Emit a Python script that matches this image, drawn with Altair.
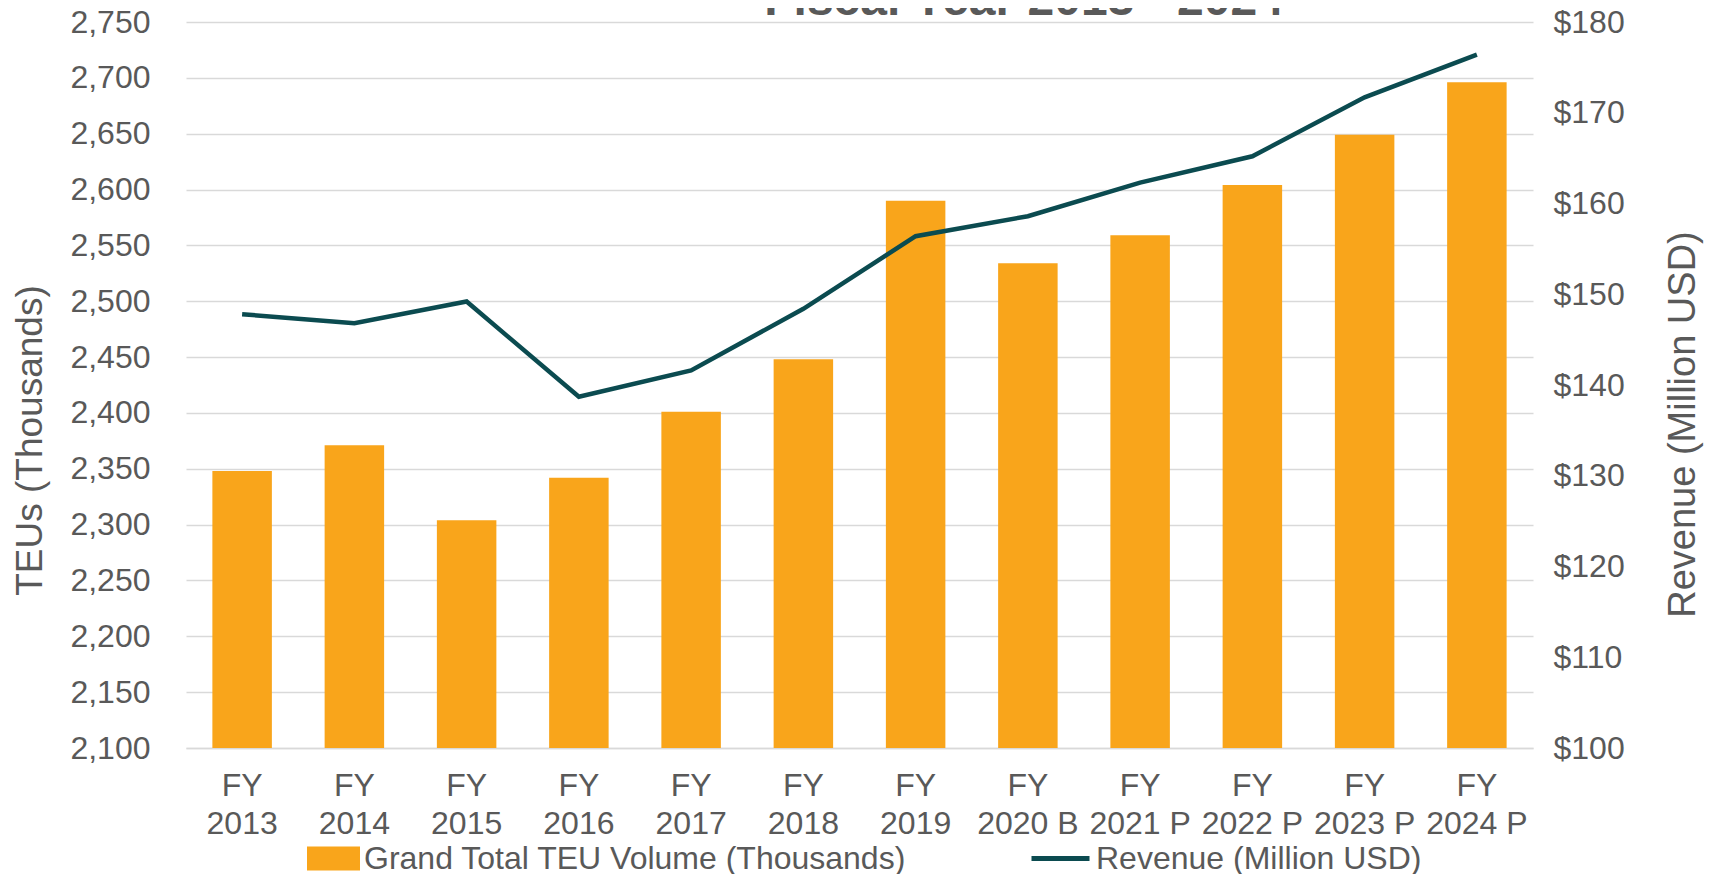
import altair as alt
import pandas as pd

years = ["FY|2013", "FY|2014", "FY|2015", "FY|2016", "FY|2017", "FY|2018",
         "FY|2019", "FY|2020 B", "FY|2021 P", "FY|2022 P", "FY|2023 P", "FY|2024 P"]
teu = [2348, 2371, 2304, 2342, 2401, 2448, 2590, 2534, 2559, 2604, 2649, 2696]
revenue = [147.8, 146.8, 149.2, 138.7, 141.6, 148.4, 156.4, 158.6, 162.3, 165.2, 171.7, 176.4]
left_ticks = [2100, 2150, 2200, 2250, 2300, 2350, 2400, 2450, 2500, 2550, 2600, 2650, 2700, 2750]
right_ticks = [100, 110, 120, 130, 140, 150, 160, 170, 180]
bar_name = "Grand Total TEU Volume (Thousands)"
line_name = "Revenue (Million USD)"
title_text = ["Fiscal Year 2013 - 2024"]

df = pd.DataFrame({"year": years, "teu": teu, "revenue": revenue,
                   "bar_series": [bar_name] * len(years),
                   "line_series": [line_name] * len(years)})
title_df = pd.DataFrame({"t": title_text})

FONT = "Liberation Sans"
GRAY = "#595959"
ORANGE = "#F9A51B"
TEAL = "#0B4B50"

x = alt.X("year:N", sort=years, title=None,
          scale=alt.Scale(paddingInner=0.47, paddingOuter=0.235),
          axis=alt.Axis(labelExpr="split(datum.label, '|')", labelAngle=0,
                        labelFontSize=32, labelLineHeight=38, labelPadding=22,
                        labelColor=GRAY, labelFont=FONT, ticks=False,
                        domainColor="#D9D9D9", domainWidth=1.5))

bars = alt.Chart(df).mark_bar(color=ORANGE).encode(
    x=x,
    y=alt.Y("teu:Q", title="TEUs (Thousands)",
            scale=alt.Scale(domain=[2100, 2750], nice=False, zero=False),
            axis=alt.Axis(values=left_ticks, format=",d", ticks=False, domain=False,
                          labelFontSize=32, labelColor=GRAY, labelFont=FONT, labelPadding=36,
                          titleFontSize=37, titleFontWeight="normal", titleColor=GRAY,
                          titleFont=FONT, titlePadding=20, titleY=418,
                          grid=True, gridColor="#D9D9D9", gridWidth=1.3)),
    y2=alt.datum(2100),
    color=alt.Color("bar_series:N", scale=alt.Scale(range=[ORANGE]),
                    legend=alt.Legend(title=None, orient="none", legendX=121, legendY=810,
                                      symbolType="M-1,-0.45L1,-0.45L1,0.45L-1,0.45Z",
                                      symbolSize=2809, symbolStrokeWidth=0,
                                      symbolOpacity=1, labelOffset=4, labelLimit=2000,
                                      labelFontSize=32, labelColor=GRAY, labelFont=FONT,
                                      padding=0)),
)

line = alt.Chart(df).mark_line(strokeWidth=4.5).encode(
    x=x,
    y=alt.Y("revenue:Q", title="Revenue (Million USD)",
            scale=alt.Scale(domain=[100, 180], nice=False, zero=False),
            axis=alt.Axis(orient="right", values=right_ticks,
                          labelExpr="'$' + datum.value", ticks=False, domain=False,
                          grid=False, labelFontSize=32, labelColor=GRAY, labelFont=FONT,
                          labelPadding=20, titleFontSize=38, titleFontWeight="normal",
                          titleColor=GRAY, titleFont=FONT, titlePadding=78,
                          titleAngle=270, titleY=402)),
    stroke=alt.Stroke("line_series:N", scale=alt.Scale(range=[TEAL]),
                      legend=alt.Legend(title=None, orient="none", legendX=843, legendY=805,
                                        symbolType="stroke", symbolSize=3364,
                                        symbolStrokeWidth=5, labelOffset=4, labelLimit=2000,
                                        labelFontSize=32, labelColor=GRAY, labelFont=FONT,
                                        padding=0)),
)

title = alt.Chart(title_df).mark_text(
    fontSize=48, fontWeight="bold", color=GRAY, font=FONT,
    align="center", baseline="alphabetic"
).encode(text="t:N", x=alt.value(838), y=alt.value(-7))

chart = alt.layer(bars, line, title).resolve_scale(
    y="independent", color="independent", stroke="independent"
).properties(
    width=1347, height=726,
    autosize=alt.AutoSizeParams(type="none"),
    padding={"left": 178, "top": 14, "right": 172, "bottom": 126},
).configure_view(stroke=None)

chart.save("out.html", embed_options={"renderer": "svg", "actions": False})
